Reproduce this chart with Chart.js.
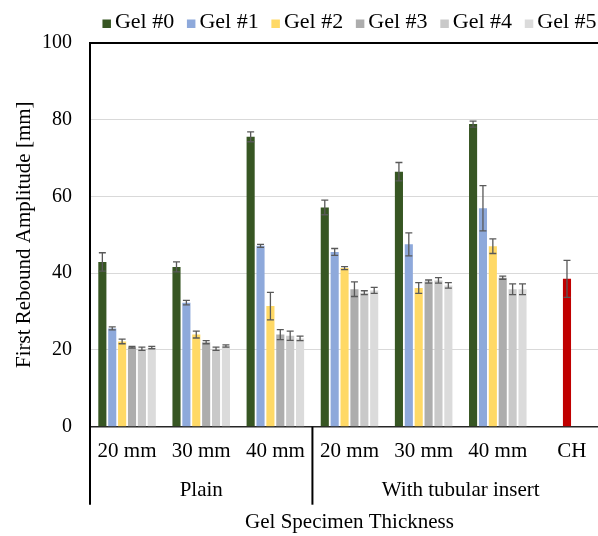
<!DOCTYPE html>
<html>
<head>
<meta charset="utf-8">
<script src="https://cdn.jsdelivr.net/npm/chart.js@4.4.1/dist/chart.umd.min.js"></script>
<style>
  html, body { margin: 0; padding: 0; background: #fff; overflow: hidden; }
  #wrap { width: 610px; height: 536px; }
</style>
</head>
<body>
<div id="wrap"><canvas id="chart" width="610" height="536"></canvas></div>
<script>
const categories = ["20 mm", "30 mm", "40 mm", "20 mm", "30 mm", "40 mm", "CH"];
const groupNames = ["Plain", "With tubular insert"];
const groupSizes = [3, 4];
const seriesNames = ["Gel #0", "Gel #1", "Gel #2", "Gel #3", "Gel #4", "Gel #5"];
const seriesColors = ["#375623", "#8EA9DB", "#FFD966", "#ADADAD", "#C9C9C9", "#DBDBDB"];
const chColor = "#C00000";

// mean values [mm]
const gel0 = [42.9, 41.6, 75.5, 57.1, 66.4, 78.8, null];
const gel1 = [25.6, 32.3, 47.1, 45.5, 47.5, 56.9, null];
const gel2 = [22.2, 24.0, 31.4, 41.3, 36.1, 47.0, 38.5]; // CH sits in this series
const gel3 = [20.7, 22.0, 24.0, 35.8, 37.8, 38.8, null];
const gel4 = [20.3, 20.3, 23.7, 34.9, 38.1, 35.8, null];
const gel5 = [20.6, 21.0, 23.0, 35.5, 36.8, 35.8, null];

// error bar half-lengths [mm]
const gel0Err = [2.4, 1.3, 1.3, 1.9, 2.4, 0.8, null];
const gel1Err = [0.4, 0.6, 0.4, 0.9, 3.0, 5.9, null];
const gel2Err = [0.6, 0.9, 3.6, 0.4, 1.4, 1.9, 4.8];
const gel3Err = [0.2, 0.4, 1.3, 1.9, 0.4, 0.4, null];
const gel4Err = [0.4, 0.4, 1.2, 0.5, 0.7, 1.4, null];
const gel5Err = [0.3, 0.3, 0.6, 0.8, 0.7, 1.4, null];

const yTicks = { min: 0, max: 100, step: 20 };

const serif = "'Liberation Serif', 'Times New Roman', serif";
const values = [gel0, gel1, gel2, gel3, gel4, gel5];
const errors = [gel0Err, gel1Err, gel2Err, gel3Err, gel4Err, gel5Err];

const datasets = seriesNames.map((name, i) => ({
  label: name,
  data: values[i],
  errors: errors[i],
  backgroundColor: i === 2
    ? categories.map((c) => (c === "CH" ? chColor : seriesColors[i]))
    : seriesColors[i],
  borderWidth: 0,
}));

const errorBars = {
  id: "errorBars",
  afterDatasetsDraw(chart) {
    const ctx = chart.ctx;
    const y = chart.scales.y;
    ctx.save();
    ctx.strokeStyle = "#595959";
    ctx.lineWidth = 1.3;
    chart.data.datasets.forEach((ds, i) => {
      const meta = chart.getDatasetMeta(i);
      meta.data.forEach((bar, j) => {
        const v = ds.data[j];
        const e = ds.errors[j];
        if (v == null || e == null) return;
        const top = y.getPixelForValue(v + e);
        const bot = y.getPixelForValue(v - e);
        const cap = 3.5;
        ctx.beginPath();
        ctx.moveTo(bar.x, top);
        ctx.lineTo(bar.x, bot);
        ctx.moveTo(bar.x - cap, top);
        ctx.lineTo(bar.x + cap, top);
        ctx.moveTo(bar.x - cap, bot);
        ctx.lineTo(bar.x + cap, bot);
        ctx.stroke();
      });
    });
    ctx.restore();
  },
};

// second row of category labels + separators
const groupAxis = {
  id: "groupAxis",
  afterDraw(chart) {
    const ctx = chart.ctx;
    const x = chart.scales.x;
    const area = chart.chartArea;
    const band = (x.right - x.left) / categories.length;
    const edges = [x.getPixelForValue(0) - band / 2];
    ctx.save();
    ctx.fillStyle = "#000";
    ctx.font = `21px ${serif}`;
    ctx.textAlign = "center";
    ctx.textBaseline = "middle";
    let start = 0;
    groupSizes.forEach((size, g) => {
      const first = x.getPixelForValue(start);
      const last = x.getPixelForValue(start + size - 1);
      ctx.fillText(groupNames[g], (first + last) / 2, area.bottom + 64);
      edges.push(last + band / 2);
      start += size;
    });
    ctx.strokeStyle = "#000";
    ctx.lineWidth = 2;
    edges.forEach((px) => {
      ctx.beginPath();
      ctx.moveTo(px, area.bottom);
      ctx.lineTo(px, area.bottom + 78);
      ctx.stroke();
    });
    ctx.restore();
  },
};

const legendRow = {
  id: "legendRow",
  afterDraw(chart) {
    const ctx = chart.ctx;
    const area = chart.chartArea;
    const box = 8.5, gap = 4, spacing = 12.7, base = 28;
    ctx.save();
    ctx.font = `22px ${serif}`;
    ctx.textBaseline = "alphabetic";
    const widths = seriesNames.map((n) => ctx.measureText(n).width);
    const total = widths.reduce((s, w) => s + box + gap + w, 0) + spacing * (seriesNames.length - 1);
    let cx = (area.left + area.right) / 2 - total / 2;
    seriesNames.forEach((name, i) => {
      ctx.fillStyle = seriesColors[i];
      ctx.fillRect(cx, base - box, box, box);
      ctx.fillStyle = "#000";
      ctx.fillText(name, cx + box + gap, base);
      cx += box + gap + widths[i] + spacing;
    });
    ctx.restore();
  },
};

new Chart(document.getElementById("chart"), {
  type: "bar",
  data: { labels: categories, datasets },
  options: {
    responsive: false,
    devicePixelRatio: 1,
    animation: false,
    layout: { padding: { top: 42.7, right: 1, left: 0, bottom: 0 } },
    datasets: { bar: { categoryPercentage: 0.8, barPercentage: 0.82 } },
    plugins: { legend: { display: false }, tooltip: { enabled: false } },
    scales: {
      x: {
        afterFit: (s) => { s.height = 109.3; },
        grid: { display: false, drawTicks: false },
        border: { color: "#262626", width: 1.5 },
        ticks: {
          color: "#000",
          font: { family: serif, size: 21 },
          padding: 12,
          maxRotation: 0,
          autoSkip: false,
        },
        title: {
          display: true,
          text: "Gel Specimen Thickness",
          color: "#000",
          font: { family: serif, size: 21 },
          padding: { top: 45.5, bottom: 1.4 },
        },
      },
      y: {
        afterFit: (s) => { s.width = 90; },
        min: yTicks.min,
        max: yTicks.max,
        ticks: {
          stepSize: yTicks.step,
          color: "#000",
          font: { family: serif, size: 20 },
          padding: 18,
        },
        grid: {
          drawTicks: false,
          color: (c) => (c.tick.value === yTicks.max ? "#000" : "#D9D9D9"),
          lineWidth: (c) => (c.tick.value === yTicks.max ? 2 : 1),
        },
        border: { color: "#000", width: 2 },
        title: {
          display: true,
          text: "First Rebound Amplitude [mm]",
          color: "#000",
          font: { family: serif, size: 21 },
          padding: { top: 11.4, bottom: 5.4 },
        },
      },
    },
  },
  plugins: [errorBars, groupAxis, legendRow],
});
</script>
</body>
</html>
